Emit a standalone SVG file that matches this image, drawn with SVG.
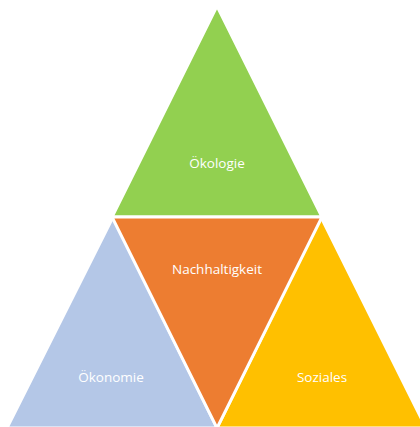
<svg xmlns="http://www.w3.org/2000/svg" width="420" height="427" viewBox="0 0 420 427">
<style>
.tri{stroke:#FFFFFF;stroke-width:3;stroke-linejoin:miter}
.lbl{font-family:"Open Sans","Liberation Sans",sans-serif;font-size:13.5px;fill:#FFFFFF;text-anchor:middle}
</style>
<rect width="420" height="427" fill="#FFFFFF"/>
<g id="oekonomie">
<polygon class="tri" points="113,217 7,428 217,428" fill="#B4C7E7"/>
<text class="lbl" x="111" y="382">Ökonomie</text>
</g>
<g id="soziales">
<polygon class="tri" points="321,217 217,428 426,428" fill="#FFC000"/>
<text class="lbl" x="322" y="382">Soziales</text>
</g>
<g id="oekologie">
<polygon class="tri" points="217,6 112,217 322,217" fill="#92D050"/>
<text class="lbl" x="217" y="168">Ökologie</text>
</g>
<g id="nachhaltigkeit">
<polygon class="tri" points="112,217 322,217 217,428" fill="#ED7D31"/>
<text class="lbl" x="217" y="274">Nachhaltigkeit</text>
</g>
<g id="connectors"/>
</svg>
